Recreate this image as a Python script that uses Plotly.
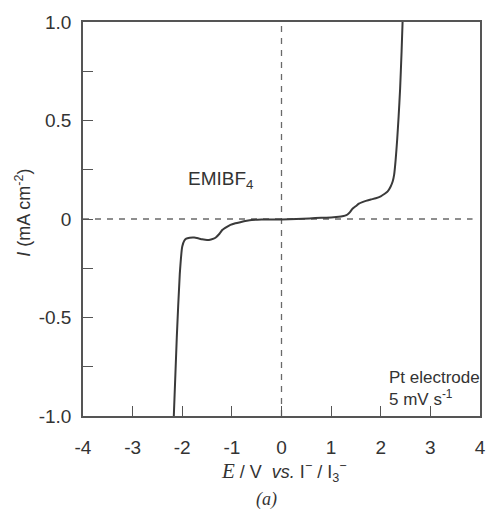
import plotly.graph_objects as go

# Current-potential curve (E in V vs I-/I3-, I in mA cm^-2)
E = [-2.17, -2.11, -2.05, -2.00, -1.96, -1.92, -1.85, -1.76, -1.68, -1.60, -1.50, -1.42,
     -1.33, -1.25, -1.19, -1.10, -1.03, -0.93, -0.83, -0.70, -0.60, -0.40, -0.20, 0.00,
     0.30, 0.56, 0.80, 1.00, 1.10, 1.20, 1.28, 1.33, 1.38, 1.43, 1.50, 1.56, 1.63, 1.70,
     1.80, 1.90, 2.00, 2.08, 2.14, 2.20, 2.24, 2.27, 2.30, 2.33, 2.36, 2.39, 2.42, 2.44]
I = [-1.0, -0.6, -0.28, -0.14, -0.11, -0.10, -0.095, -0.094, -0.098, -0.103, -0.107, -0.104,
     -0.095, -0.075, -0.055, -0.04, -0.03, -0.022, -0.016, -0.009, -0.005, -0.003, -0.002, -0.002,
     0.0, 0.003, 0.006, 0.008, 0.010, 0.013, 0.017, 0.023, 0.035, 0.052, 0.066, 0.078, 0.086, 0.092,
     0.099, 0.105, 0.115, 0.128, 0.14, 0.165, 0.19, 0.225, 0.30, 0.40, 0.52, 0.66, 0.85, 1.0]

x_ticks = [-4, -3, -2, -1, 0, 1, 2, 3, 4]
x_labels = ["-4", "-3", "-2", "-1", "0", "1", "2", "3", "4"]
y_ticks = [-1.0, -0.5, 0.0, 0.5, 1.0]
y_labels = ["-1.0", "-0.5", "0", "0.5", "1.0"]
y_minor = [-0.75, -0.25, 0.25, 0.75]

AX = "#555555"
TXT = "#333333"
FONT = "Liberation Sans, Arial, sans-serif"
SERIF = "Liberation Serif, Times New Roman, serif"

fig = go.Figure()
fig.add_trace(go.Scatter(
    x=E, y=I, mode="lines",
    line=dict(color="#3a3a3a", width=2, shape="spline", smoothing=0.5),
    hoverinfo="skip", showlegend=False,
))

# reference dashed lines
fig.add_shape(type="line", x0=-4, x1=3.85, y0=0, y1=0, xref="x", yref="y",
              line=dict(color="#6a6a6a", width=1.3, dash="6px,6px"), layer="below")
fig.add_shape(type="line", x0=0, x1=0, y0=-1, y1=1, xref="x", yref="y",
              line=dict(color="#6a6a6a", width=1.3, dash="6px,6px"), layer="below")

fig.update_layout(
    width=491, height=517,
    margin=dict(l=83, r=5, t=22, b=101),
    paper_bgcolor="white", plot_bgcolor="white",
    font=dict(family=FONT, color=TXT, size=19),
    xaxis=dict(
        range=[-4, 4], tickvals=x_ticks, ticktext=x_labels,
        ticks="inside", ticklen=10, tickwidth=1.2, tickcolor=AX,
        showline=True, linecolor=AX, linewidth=1.5, mirror=True,
        showgrid=False, zeroline=False, ticklabelstandoff=13,
        tickfont=dict(size=19, color=TXT, family=FONT),
    ),
    yaxis=dict(
        range=[-1, 1], tickvals=y_ticks, ticktext=y_labels,
        ticks="inside", ticklen=10, tickwidth=1.2, tickcolor=AX,
        minor=dict(tickvals=y_minor, ticks="inside", ticklen=10, tickwidth=1.2, tickcolor=AX),
        showline=True, linecolor=AX, linewidth=1.5, mirror=True,
        showgrid=False, zeroline=False, ticklabelstandoff=6,
        tickfont=dict(size=19, color=TXT, family=FONT),
    ),
)

fig.add_annotation(x=-1.92, y=0.2, xref="x", yref="y", text="EMIBF<sub>4</sub>",
                   showarrow=False, xanchor="left", yanchor="middle",
                   font=dict(size=19, color=TXT, family=FONT))
fig.add_annotation(x=2.13, y=-0.86, xref="x", yref="y",
                   text="Pt electrode<br>5 mV s<sup>-1</sup>",
                   showarrow=False, xanchor="left", yanchor="middle", align="left",
                   font=dict(size=17, color=TXT, family=FONT))
fig.add_annotation(x=-0.152, y=0.515, xref="paper", yref="paper",
                   text="<i>I</i> (mA cm<sup>-2</sup>)", textangle=-90,
                   showarrow=False, xanchor="center", yanchor="middle",
                   font=dict(size=18, color=TXT, family=FONT))
fig.add_annotation(x=0.506, y=-0.142, xref="paper", yref="paper",
                   text="<span style=\"font-family:'Liberation Serif';font-size:21px\"><i>E</i></span> / V  <i>vs.</i> I<sup>\u2212</sup> / I<sub>3</sub><sup>\u2212</sup>",
                   showarrow=False, xanchor="center", yanchor="middle",
                   font=dict(size=18, color=TXT, family=FONT))
fig.add_annotation(x=0.462, y=-0.212, xref="paper", yref="paper",
                   text="<i>(a)</i>",
                   showarrow=False, xanchor="center", yanchor="middle",
                   font=dict(size=18, color=TXT, family=SERIF))

fig.write_html("out.html")
